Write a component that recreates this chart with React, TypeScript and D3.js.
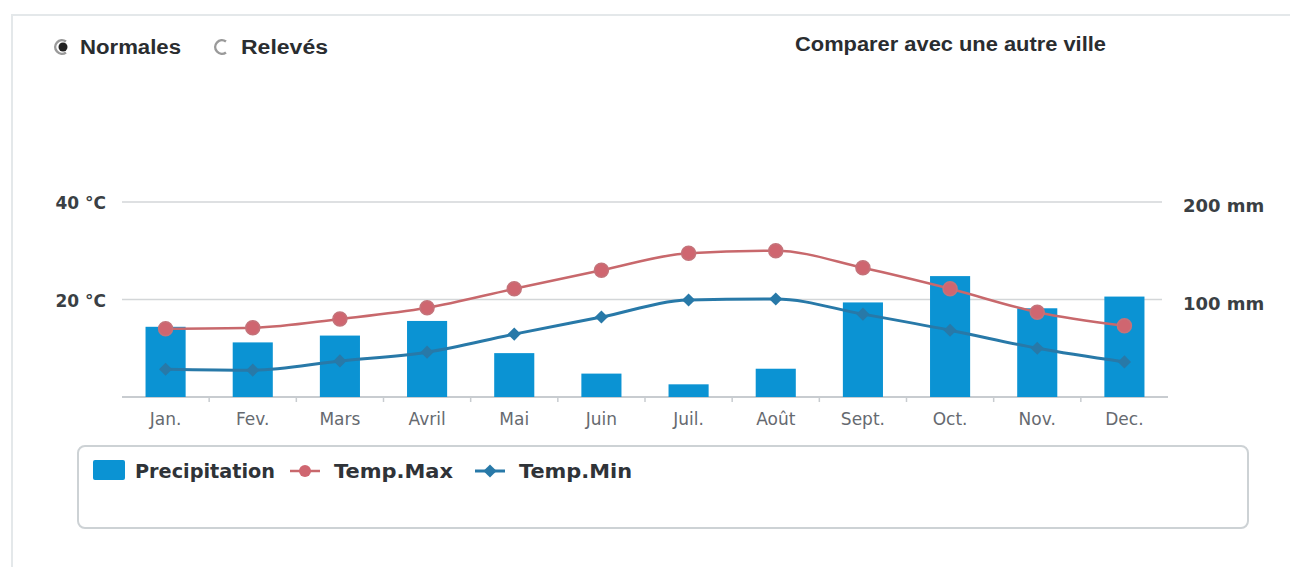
import React, { useRef, useEffect } from "react";
import * as d3 from "d3";

const months = ["Jan.", "Fev.", "Mars", "Avril", "Mai", "Juin", "Juil.", "Août", "Sept.", "Oct.", "Nov.", "Dec."];
const precipitation = [72, 56, 63, 78, 45, 24, 13, 29, 97, 124, 91, 103];
const tempMax = [14, 14.2, 16, 18.3, 22.2, 26, 29.5, 30, 26.5, 22.2, 17.4, 14.6];
const tempMin = [5.7, 5.5, 7.4, 9.2, 12.9, 16.4, 19.9, 20.1, 17, 13.7, 10, 7.2];
const tempTicks = [20, 40];
const precTicks = [100, 200];

const width = 1300;
const height = 567;

const ClimateChart = () => {
  const ref = useRef<SVGSVGElement>(null);

  useEffect(() => {
    if (!ref.current) return;
    const svg = d3.select(ref.current);
    svg.selectAll("*").remove();

    const font = "'Liberation Sans', Arial, sans-serif";
    const axisFont = "'DejaVu Sans', 'Open Sans', sans-serif";

    const x = d3.scaleBand().domain(months).range([122, 1168]).padding(0);
    const yTemp = d3.scaleLinear().domain([0, 40]).range([397, 202]);
    const yPrec = d3.scaleLinear().domain([0, 200]).range([397, 202]);
    const cx = (m: string) => (x(m) ?? 0) + x.bandwidth() / 2;
    const barW = x.bandwidth() * 0.46;

    // outer panel
    svg.append("rect").attr("width", width).attr("height", height).attr("fill", "#fff");
    svg.append("path")
      .attr("d", `M12,${height} L12,15 L1290,15`)
      .attr("fill", "none").attr("stroke", "#e4e8ea").attr("stroke-width", 2);

    // header: radio buttons and link
    const radioArc = d3.arc()({ innerRadius: 5.5, outerRadius: 8, startAngle: 0.8 * Math.PI, endAngle: 2.2 * Math.PI }) as string;
    const top = svg.append("g");
    top.append("path").attr("d", radioArc).attr("transform", "translate(62,47)").attr("fill", "#9a9a9a");
    top.append("circle").attr("cx", 63).attr("cy", 47).attr("r", 4.5).attr("fill", "#222");
    top.append("path").attr("d", radioArc).attr("transform", "translate(222,47)").attr("fill", "#9a9a9a");
    top.append("text").attr("x", 80).attr("y", 54).text("Normales").attr("textLength", 101);
    top.append("text").attr("x", 241).attr("y", 54).text("Relevés").attr("textLength", 87);
    top.append("text").attr("x", 795).attr("y", 51).text("Comparer avec une autre ville").attr("textLength", 311);
    top.selectAll("text")
      .attr("font-family", font).attr("font-size", 20).attr("font-weight", "bold")
      .attr("fill", "#2a2d30").attr("lengthAdjust", "spacingAndGlyphs");

    // grid lines
    svg.selectAll(".grid").data(tempTicks).enter().append("line")
      .attr("x1", 122).attr("x2", 1162)
      .attr("y1", (d) => yTemp(d)).attr("y2", (d) => yTemp(d))
      .attr("stroke", "#d3d6d8").attr("stroke-width", 1.5);
    svg.append("line").attr("x1", 122).attr("x2", 1168)
      .attr("y1", yTemp(0)).attr("y2", yTemp(0)).attr("stroke", "#c8ccd0").attr("stroke-width", 2);

    // x ticks
    svg.selectAll(".xtick").data(months.slice(1)).enter().append("line")
      .attr("x1", (d) => x(d) ?? 0).attr("x2", (d) => x(d) ?? 0)
      .attr("y1", yTemp(0)).attr("y2", yTemp(0) + 5)
      .attr("stroke", "#c8ccd0").attr("stroke-width", 1.5);

    // left axis labels
    svg.selectAll(".ylab").data(tempTicks).enter().append("text")
      .attr("x", 106).attr("y", (d) => yTemp(d) + 7).attr("text-anchor", "end")
      .text((d) => `${d} °C`).attr("font-family", axisFont).attr("font-size", 17)
      .attr("font-weight", "bold").attr("fill", "#3a3f44");

    // right axis labels
    svg.selectAll(".y2lab").data(precTicks).enter().append("text")
      .attr("x", 1183).attr("y", (d) => yPrec(d) + 10)
      .text((d) => `${d} mm`).attr("font-family", axisFont).attr("font-size", 18)
      .attr("font-weight", "bold").attr("fill", "#3a3f44");

    // month labels
    svg.selectAll(".xlab").data(months).enter().append("text")
      .attr("x", (d) => cx(d)).attr("y", 425).attr("text-anchor", "middle")
      .text((d) => d).attr("font-family", axisFont).attr("font-size", 17)
      .attr("fill", "#666a70");

    // bars
    svg.selectAll(".bar").data(precipitation).enter().append("rect")
      .attr("x", (_, i) => cx(months[i]) - barW / 2)
      .attr("y", (d) => yPrec(d))
      .attr("width", barW)
      .attr("height", (d) => yPrec(0) - yPrec(d))
      .attr("fill", "#0b93d3");

    const line = d3.line<number>()
      .x((_, i) => cx(months[i]))
      .curve(d3.curveMonotoneX);

    // temp max
    svg.append("path")
      .attr("d", line.y((d) => yTemp(d))(tempMax) as string)
      .attr("fill", "none").attr("stroke", "#c8686c").attr("stroke-width", 2.5);
    svg.selectAll(".maxpt").data(tempMax).enter().append("circle")
      .attr("cx", (_, i) => cx(months[i])).attr("cy", (d) => yTemp(d)).attr("r", 7)
      .attr("fill", "#cf6670").attr("stroke", "#c4737a").attr("stroke-width", 1.5);

    // temp min
    svg.append("path")
      .attr("d", line.y((d) => yTemp(d))(tempMin) as string)
      .attr("fill", "none").attr("stroke", "#2879a8").attr("stroke-width", 3);
    const diamond = d3.symbol().type(d3.symbolDiamond2).size(110)();
    svg.selectAll(".minpt").data(tempMin).enter().append("path")
      .attr("d", diamond as string)
      .attr("transform", (d, i) => `translate(${cx(months[i])},${yTemp(d)})`)
      .attr("fill", "#2879a8");

    // legend
    const lg = svg.append("g");
    lg.append("rect").attr("x", 78).attr("y", 446).attr("width", 1170).attr("height", 82)
      .attr("rx", 7).attr("fill", "#fff").attr("stroke", "#cdd2d5").attr("stroke-width", 2);
    lg.append("rect").attr("x", 93).attr("y", 460).attr("width", 32).attr("height", 20)
      .attr("rx", 2).attr("fill", "#0b93d3");
    lg.append("text").attr("x", 135).attr("y", 478).text("Precipitation").attr("textLength", 140);
    lg.append("line").attr("x1", 290).attr("x2", 320).attr("y1", 471).attr("y2", 471)
      .attr("stroke", "#c8686c").attr("stroke-width", 2.5);
    lg.append("circle").attr("cx", 305).attr("cy", 471).attr("r", 6).attr("fill", "#cf6670");
    lg.append("text").attr("x", 334).attr("y", 478).text("Temp.Max").attr("textLength", 119);
    lg.append("line").attr("x1", 475).attr("x2", 505).attr("y1", 471).attr("y2", 471)
      .attr("stroke", "#2879a8").attr("stroke-width", 3);
    lg.append("path").attr("d", diamond as string).attr("transform", "translate(490,471)")
      .attr("fill", "#2879a8");
    lg.append("text").attr("x", 519).attr("y", 478).text("Temp.Min").attr("textLength", 113);
    lg.selectAll("text").attr("font-family", axisFont).attr("font-size", 19)
      .attr("font-weight", "bold").attr("fill", "#2f3338").attr("lengthAdjust", "spacingAndGlyphs");
  }, []);

  return <svg ref={ref} width={width} height={height} />;
};

export default function App() {
  return (
    <div style={{ position: "absolute", left: 0, top: 0 }}>
      <ClimateChart />
    </div>
  );
}
